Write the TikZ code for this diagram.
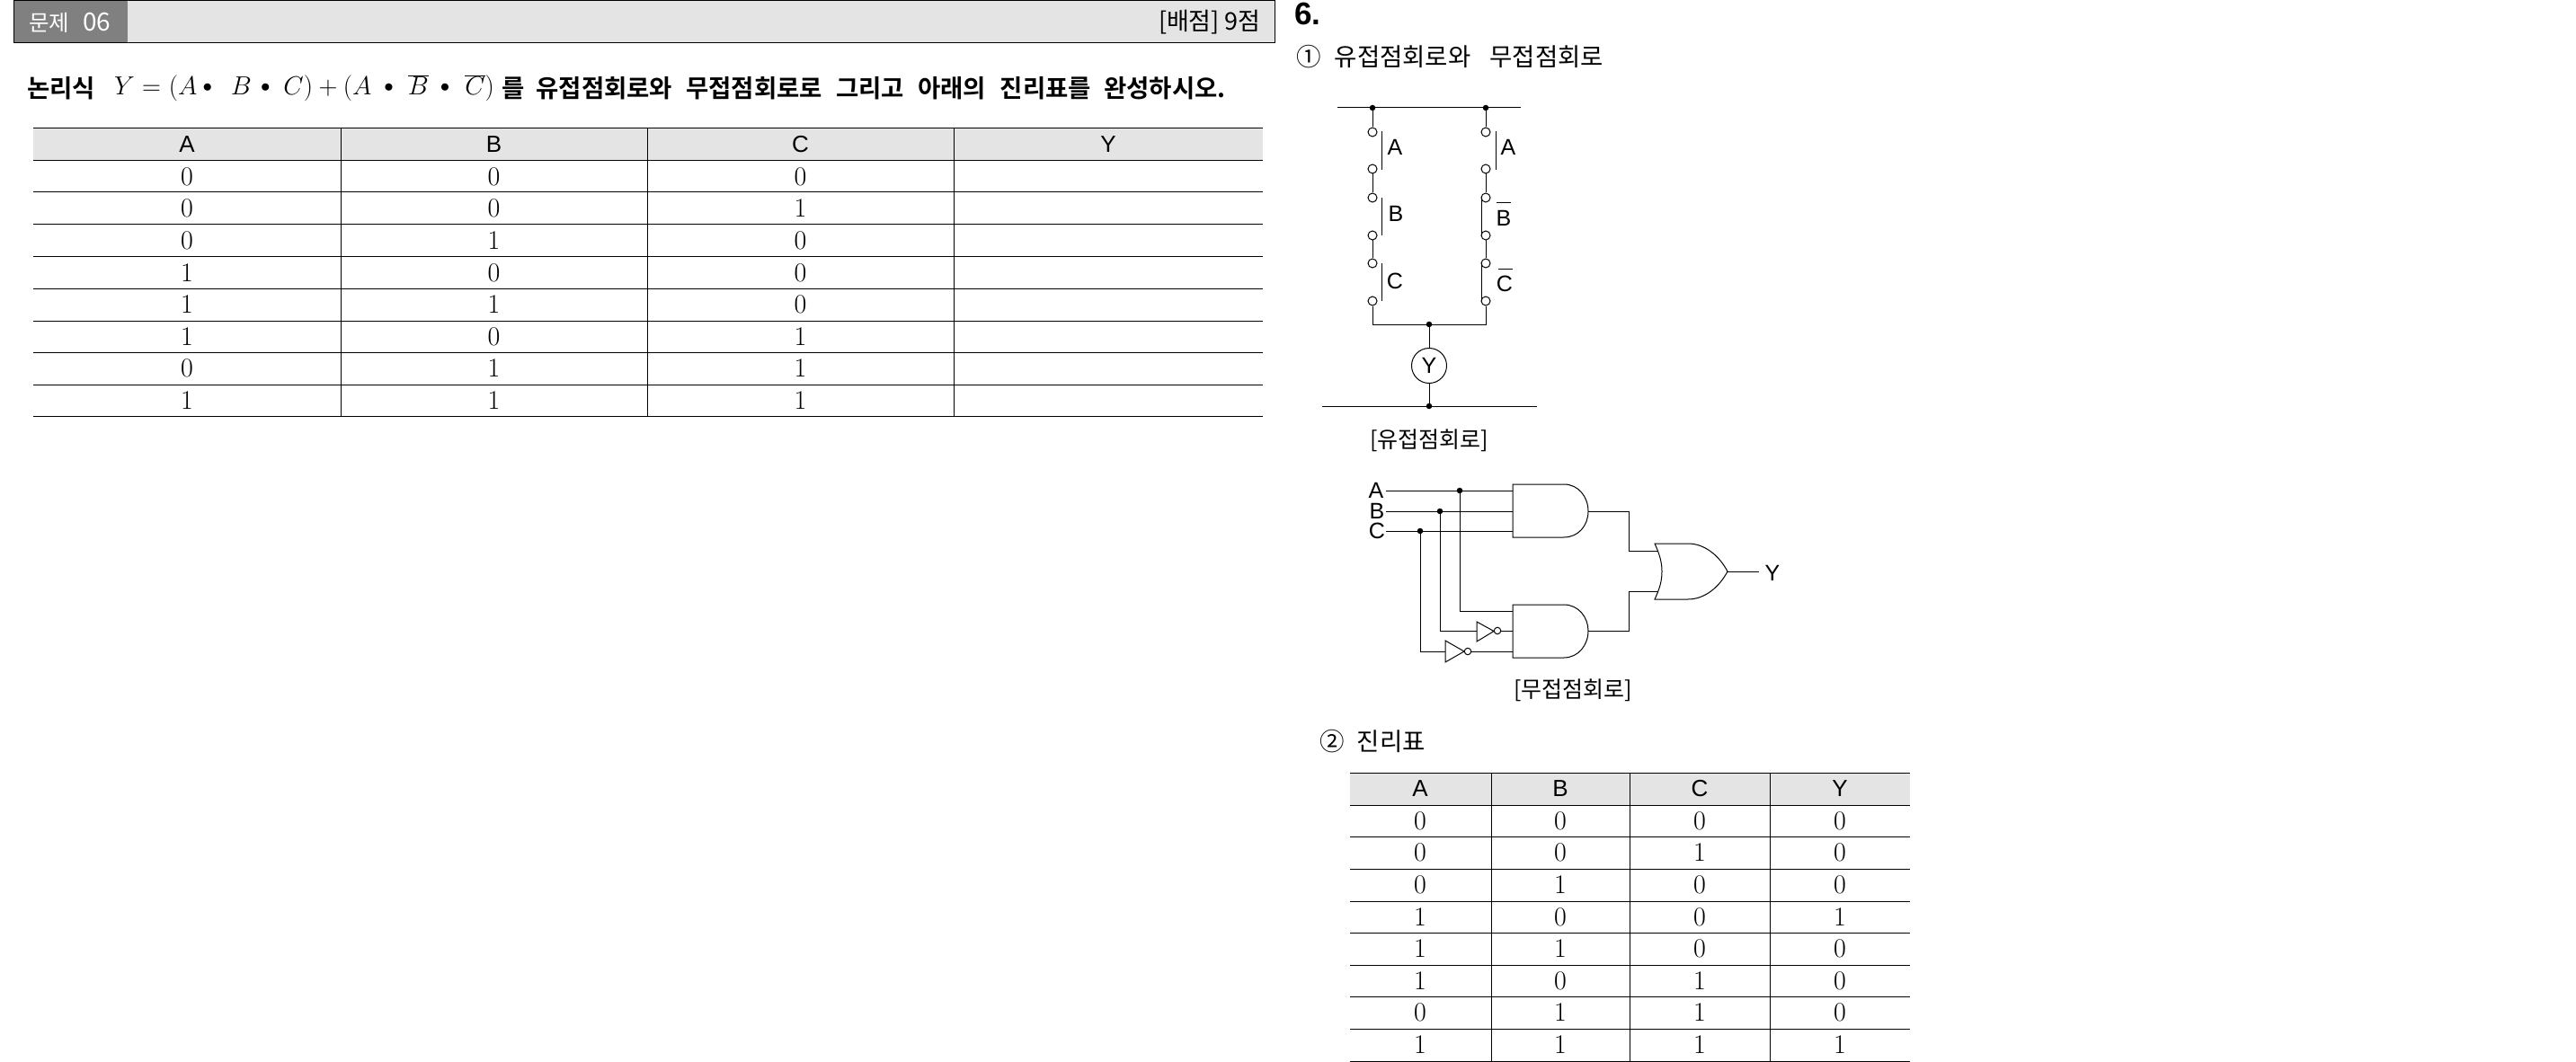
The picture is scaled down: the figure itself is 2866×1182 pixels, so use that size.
\RequirePackage{fix-cm}
\documentclass[tikz,border=0pt]{standalone}
\usepackage{fontspec}
\newfontfamily\kor{Noto Sans CJK KR}
\newfontfamily\korb{Noto Sans CJK KR Bold}
\newfontfamily\lib{Liberation Sans}
\definecolor{hdr}{HTML}{E4E4E4}
\definecolor{dark}{HTML}{808080}
\newcommand{\bu}{\mathord{\vcenter{\hbox{\scalebox{.72}{$\bullet$}}}}}
\newcommand{\hs}[1]{\hspace{#1pt}}
\tikzset{
  hline/.style={line width=1pt,black},
  vline/.style={line width=.8pt,black},
  wire/.style={line width=1pt,black},
  gate/.style={line width=1pt,black,fill=white},
  headtxt/.style={inner sep=0pt,font=\lib\fontsize{26}{28}\selectfont},
  digit/.style={inner sep=0pt,font=\fontsize{30}{32}\selectfont},
  lbl/.style={inner sep=0pt,font=\lib\fontsize{25}{27}\selectfont},
  kortxt/.style={inner sep=0pt,font=\kor\fontsize{27.5}{30}\selectfont},
  captxt/.style={inner sep=0pt,font=\kor\fontsize{25}{28}\selectfont},
  boldtxt/.style={inner sep=0pt,font=\korb\fontsize{27.5}{30}\selectfont},
  term/.style={circle,draw,line width=1pt,fill=white,minimum size=10pt,inner sep=0pt},
  jdot/.style={circle,fill=black,minimum size=6.5pt,inner sep=0pt},
  bubble/.style={circle,draw,line width=1pt,fill=white,minimum size=7.5pt,inner sep=0pt}
}
\begin{document}
\begin{tikzpicture}[x=1pt,y=-1pt]
\useasboundingbox (0,0) rectangle (2866,1182);
\fill[white] (0,0) rectangle (2866,1182);

% ---------- question bar
\fill[hdr] (16,1) rectangle (1418,48);
\fill[dark] (16,1) rectangle (142,48);
\draw[hline] (15.5,0.8) rectangle (1418,48);
\node[anchor=west,inner sep=0pt,text=white,font=\kor\fontsize{24.5}{28}\selectfont] (qtitle) at (32,25) {문제\hspace{15pt}{\fontsize{28}{28}\selectfont 06}};
\node[anchor=east,inner sep=0pt,font=\kor\fontsize{27}{28}\selectfont] (qscore) at (1403,25) {[배점] 9점};

% ---------- question line
\node[boldtxt,anchor=west] (qa) at (30,98) {논리식};
\node[inner sep=0pt,anchor=west,font=\fontsize{29}{32}\selectfont] (qb) at (127,98)
  {$Y=\hs{1}\left(A\hs{6}\bu\hs{21}B\hs{10}\bu\hs{15}C\right)+\left(A\hs{14}\bu\hs{16}\overline{B}\hs{13}\bu\hs{17}\overline{C}\rule[-7pt]{0pt}{27pt}\right)$};
\node[boldtxt,anchor=west] (qc) at (558,98)
  {를\hspace{13pt}유접점회로와\hspace{15pt}무접점회로로\hspace{15pt}그리고\hspace{15pt}아래의\hspace{16pt}진리표를\hspace{14pt}완성하시오.};

% ---------- left table
\fill[hdr] (37,143) rectangle (1405,179);
\foreach \y in {143,179,214,250,286,321,357,392,428,463}
  \draw[hline] (37,\y) -- (1405,\y);
\foreach \x in {379,720,1061}
  \draw[vline] (\x,143) -- (\x,463);
\node[headtxt] (lha) at (208,161) {A};
\node[headtxt] (lhb) at (549.5,161) {B};
\node[headtxt] (lhc) at (890.5,161) {C};
\node[headtxt] (lhy) at (1233,161) {Y};
\foreach \r/\y/\a/\b/\c in {1/197/0/0/0,2/232/0/0/1,3/268/0/1/0,4/304/1/0/0,5/339/1/1/0,6/375/1/0/1,7/410/0/1/1,8/446/1/1/1}{
  \node[digit] (la\r) at (208,\y) {\a};
  \node[digit] (lb\r) at (549.5,\y) {\b};
  \node[digit] (lc\r) at (890.5,\y) {\c};
}

% ---------- answer headings
\node[inner sep=0pt,anchor=west,font=\lib\bfseries\fontsize{35}{38}\selectfont] (six) at (1440,15) {6.};
\node[kortxt,anchor=west] (ans1) at (1442,63) {①\hspace{15pt}유접점회로와\hspace{21pt}무접점회로};

% ---------- contact circuit
\coordinate (busL) at (1488,120);
\coordinate (busR) at (1692,120);
\coordinate (bus2L) at (1471,452);
\coordinate (bus2R) at (1710,452);
\node[jdot] (dt1) at (1527,120) {};
\node[jdot] (dt2) at (1653,120) {};
\node[jdot] (dj) at (1590,361) {};
\node[jdot] (dbot) at (1590,452) {};
\draw[wire] (busL) -- (busR);
\draw[wire] (bus2L) -- (bus2R);
\foreach \n/\y in {1/147,2/188,3/220,4/262,5/293,6/335}{
  \node[term] (l\n) at (1527,\y) {};
  \node[term] (r\n) at (1653,\y) {};
}
\draw[wire] (dt1) -- (l1);
\draw[wire] (dt2) -- (r1);
\draw[wire] (l2) -- (l3);
\draw[wire] (l4) -- (l5);
\draw[wire] (r2) -- (r3);
\draw[wire] (r4) -- (r5);
\draw[wire] (l6) |- (dj);
\draw[wire] (r6) |- (dj);
\node[circle,draw,line width=1pt,minimum size=39pt,inner sep=0pt,font=\lib\fontsize{25}{27}\selectfont] (yc) at (1590,407) {Y};
\draw[wire] (dj) -- (yc);
\draw[wire] (yc) -- (dbot);
% contact bars
\foreach \xx/\ya/\yb/\nm in {1537/146/189/ba,1537/220/262/bb,1537/293/335/bc,1664/146/189/bd,1648/220/262/be,1648/293/335/bf}{
  \coordinate (\nm1) at (\xx,\ya);
  \coordinate (\nm2) at (\xx,\yb);
  \draw[wire] (\nm1) -- (\nm2);
}
\node[lbl] (ca) at (1552,164) {A};
\node[lbl] (cb) at (1553,238) {B};
\node[lbl] (cc) at (1552,313) {C};
\node[lbl] (cd) at (1678,164) {A};
\node[lbl] (ce) at (1673,243) {B};
\node[lbl] (cf) at (1674,316) {C};
\coordinate (oe1) at (1665,226); \coordinate (oe2) at (1681,226);
\coordinate (of1) at (1667,299); \coordinate (of2) at (1683,299);
\draw[wire] (oe1) -- (oe2);
\draw[wire] (of1) -- (of2);
\node[captxt] (cap1) at (1590,490) {[유접점회로]};

% ---------- logic circuit
\node[lbl] (ia) at (1531,546) {A};
\node[lbl] (ib) at (1532,569) {B};
\node[lbl] (ic) at (1532,591) {C};
\coordinate (wa) at (1542,546);
\coordinate (wb) at (1542,569);
\coordinate (wc) at (1542,591);
\node[jdot] (ja) at (1624,546) {};
\node[jdot] (jb) at (1602,569) {};
\node[jdot] (jc) at (1580,591) {};
% AND gate 1
\draw[gate] (1683,539) coordinate (g1tl) -- (1740,539)
  .. controls (1756,539) and (1767,553) .. (1767,569) coordinate (g1o)
  .. controls (1767,585) and (1756,598) .. (1740,598) -- (1683,598) coordinate (g1bl) -- cycle;
\coordinate (g1a) at (1683,546);
\coordinate (g1b) at (1683,569);
\coordinate (g1c) at (1683,591);
% AND gate 2
\draw[gate] (1683,673) coordinate (g2tl) -- (1740,673)
  .. controls (1756,673) and (1767,687) .. (1767,702) coordinate (g2o)
  .. controls (1767,718) and (1756,732) .. (1740,732) -- (1683,732) coordinate (g2bl) -- cycle;
\coordinate (g2a) at (1683,680);
\coordinate (g2b) at (1683,702);
\coordinate (g2c) at (1683,725);
\draw[wire] (wa) -- (ja) -- (g1a);
\draw[wire] (wb) -- (jb) -- (g1b);
\draw[wire] (wc) -- (jc) -- (g1c);
\draw[wire] (ja) |- (g2a);
% inverters
\draw[gate] (1643,692) coordinate (n1t) -- (1662,702.5) coordinate (n1o) -- (1643,714) coordinate (n1b) -- cycle;
\coordinate (n1i) at (1643,702);
\node[bubble] (n1x) at (1666,702) {};
\draw[gate] (1608,713) coordinate (n2t) -- (1629,725) coordinate (n2o) -- (1608,737) coordinate (n2b) -- cycle;
\coordinate (n2i) at (1608,725);
\node[bubble] (n2x) at (1633,725) {};
\draw[wire] (jb) |- (n1i);
\draw[wire] (n1x) -- (g2b);
\draw[wire] (jc) |- (n2i);
\draw[wire] (n2x) -- (g2c);
% OR gate
\coordinate (o1) at (1846,613);
\coordinate (o2) at (1846,658);
\coordinate (oo) at (1922,636);
\coordinate (yend) at (1957,636);
\draw[wire] (g1o) -- (1812,569) |- (o1);
\draw[wire] (g2o) -- (1812,702) |- (o2);
\draw[gate] (1841,605) .. controls (1847,618) and (1849,627) .. (1849,636)
  .. controls (1849,646) and (1847,654) .. (1841,667) -- (1878,667)
  .. controls (1897,667) and (1913,653) .. (oo)
  .. controls (1913,619) and (1897,605) .. (1878,605) -- cycle;
\draw[wire] (oo) -- (yend);
\node[lbl] (oy) at (1972,638) {Y};
\node[captxt] (cap2) at (1750,768) {[무접점회로]};

% ---------- answer 2
\node[kortxt,anchor=west] (ans2) at (1468,825) {②\hspace{14pt}진리표};
\fill[hdr] (1502,860) rectangle (2125,896);
\foreach \y in {860,896,931,967,1003,1038,1074,1109,1145,1181}
  \draw[hline] (1502,\y) -- (2125,\y);
\foreach \x in {1659,1813,1969}
  \draw[vline] (\x,860) -- (\x,1181);
\node[headtxt] (rha) at (1580,878) {A};
\node[headtxt] (rhb) at (1736,878) {B};
\node[headtxt] (rhc) at (1891,878) {C};
\node[headtxt] (rhy) at (2047,878) {Y};
\foreach \r/\y/\a/\b/\c/\d in {1/914/0/0/0/0,2/949/0/0/1/0,3/985/0/1/0/0,4/1021/1/0/0/1,5/1056/1/1/0/0,6/1092/1/0/1/0,7/1127/0/1/1/0,8/1163/1/1/1/1}{
  \node[digit] (ra\r) at (1580,\y) {\a};
  \node[digit] (rb\r) at (1736,\y) {\b};
  \node[digit] (rc\r) at (1891,\y) {\c};
  \node[digit] (rd\r) at (2047,\y) {\d};
}
\end{tikzpicture}
\end{document}
